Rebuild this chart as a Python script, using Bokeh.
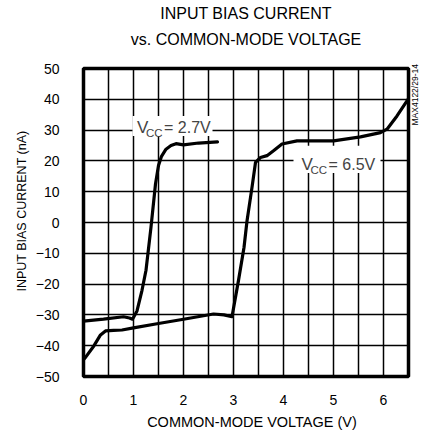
import math
from bokeh.plotting import figure
from bokeh.models import Label, FixedTicker, BoxAnnotation, LinearAxis
from bokeh.embed import file_html
from bokeh.resources import INLINE

# Data
v27_x = [0, 0.4, 0.8, 0.92, 0.98, 1.07, 1.17, 1.25, 1.35, 1.44, 1.5, 1.56, 1.65, 1.75, 1.85, 2.0, 2.3, 2.68]
v27_y = [-32, -31.4, -30.6, -31.0, -31.4, -28.7, -22.0, -15.5, -1.5, 12.5, 18.5, 21.5, 23.8, 25.0, 25.6, 25.2, 25.8, 26.2]

v65_x = [0, 0.04, 0.21, 0.34, 0.44, 0.6, 0.77, 1.0, 1.5, 2.0, 2.6, 2.81, 2.97, 3.1, 3.21, 3.27, 3.37, 3.44, 3.54,
         3.67, 3.8, 3.97, 4.27, 5.0, 5.54, 5.94, 6.07, 6.27, 6.47, 6.5]
v65_y = [-44.5, -43.8, -40, -36.5, -35.2, -35.0, -34.9, -34.2, -32.8, -31.4, -29.7, -30.0, -30.6, -18.8, -8.1, 0.5,
         11.4, 19.5, 21.1, 21.7, 23.3, 25.5, 26.5, 26.5, 27.8, 29.2, 30.3, 34.6, 39.5, 40.2]

x_ticks = [0, 1, 2, 3, 4, 5, 6]
y_ticks = [-50, -40, -30, -20, -10, 0, 10, 20, 30, 40, 50]
x_grid = [0.5, 1, 1.5, 2, 2.5, 3, 3.5, 4, 4.5, 5, 5.5, 6]
y_grid = [-40, -30, -20, -10, 0, 10, 20, 30, 40]

title_lines = ["INPUT BIAS CURRENT", "vs. COMMON-MODE VOLTAGE"]
x_title = "COMMON-MODE VOLTAGE (V)"
y_title = "INPUT BIAS CURRENT (nA)"
series_labels = ["= 2.7V", "= 6.5V"]
code_label = "MAX4122/29-14"

FONT = "Liberation Sans"

p = figure(width=428, height=434, output_backend="svg", toolbar_location=None,
           x_range=(0, 6.5), y_range=(-50, 50),
           min_border_left=83, min_border_right=19, min_border_top=68, min_border_bottom=58)

p.outline_line_color = "black"
p.outline_line_width = 3.5
p.outline_line_alpha = 1.0


def style_axis(ax, size):
    ax.axis_line_color = None
    ax.major_tick_line_color = None
    ax.minor_tick_line_color = None
    ax.major_tick_out = 0
    ax.major_tick_in = 0
    ax.minor_tick_out = 0
    ax.minor_tick_in = 0
    ax.major_label_text_font = FONT
    ax.major_label_text_font_size = size
    ax.major_label_text_color = "black"


style_axis(p.xaxis[0], "14px")
style_axis(p.yaxis[0], "14px")
p.xaxis.ticker = FixedTicker(ticks=x_ticks)
p.yaxis.ticker = FixedTicker(ticks=y_ticks)
p.xaxis.major_label_standoff = 18
p.yaxis.major_label_standoff = 24


def text_axis(side, pos, text, size, standoff, orientation="horizontal"):
    ax = LinearAxis(ticker=FixedTicker(ticks=[pos]), major_label_overrides={pos: text},
                    major_label_standoff=standoff, major_label_orientation=orientation)
    style_axis(ax, size)
    p.add_layout(ax, side)
    return ax


# title lines (inner line first, it sits nearest to the frame)
text_axis("above", 3.25, title_lines[1], "16px", 21)
text_axis("above", 3.25, title_lines[0], "16px", 6)
# axis titles
text_axis("below", 3.37, x_title, "14.5px", 6)
text_axis("left", 29.9, y_title, "12.5px", 10, orientation=math.pi / 2)
# side code
text_axis("right", 31.5, code_label, "8.5px", 7, orientation=math.pi / 2)

p.xgrid.ticker = FixedTicker(ticks=x_grid)
p.ygrid.ticker = FixedTicker(ticks=y_grid)
for g in (p.xgrid[0], p.ygrid[0]):
    g.grid_line_color = "black"
    g.grid_line_width = 1.5
    g.grid_line_alpha = 1.0

p.line(v27_x, v27_y, line_color="black", line_width=3.2, line_join="round", line_cap="round")
p.line(v65_x, v65_y, line_color="black", line_width=3.2, line_join="round", line_cap="round")

# label backgrounds (hide the grid behind the labels)
p.add_layout(BoxAnnotation(left=0.98, right=2.58, bottom=28.1, top=34.6, fill_color="white", fill_alpha=1,
                           line_color=None, level="underlay"))
p.add_layout(BoxAnnotation(left=4.2, right=5.94, bottom=16.1, top=24.9, fill_color="white", fill_alpha=1,
                           line_color=None, level="underlay"))


def vcc_label(x, y, rest):
    p.add_layout(Label(x=x, y=y, text="V", text_font=FONT, text_font_size="17px",
                       text_baseline="alphabetic", text_align="left"))
    p.add_layout(Label(x=x, y=y, x_offset=9, y_offset=-5, text="CC", text_font=FONT, text_font_size="11.5px",
                       text_baseline="alphabetic", text_align="left"))
    p.add_layout(Label(x=x, y=y, x_offset=27, text=rest, text_font=FONT, text_font_size="16px",
                       text_baseline="alphabetic", text_align="left"))


vcc_label(1.07, 30.8, series_labels[0])
vcc_label(4.36, 18.7, series_labels[1])

open("out.html", "w").write(file_html(p, INLINE))
